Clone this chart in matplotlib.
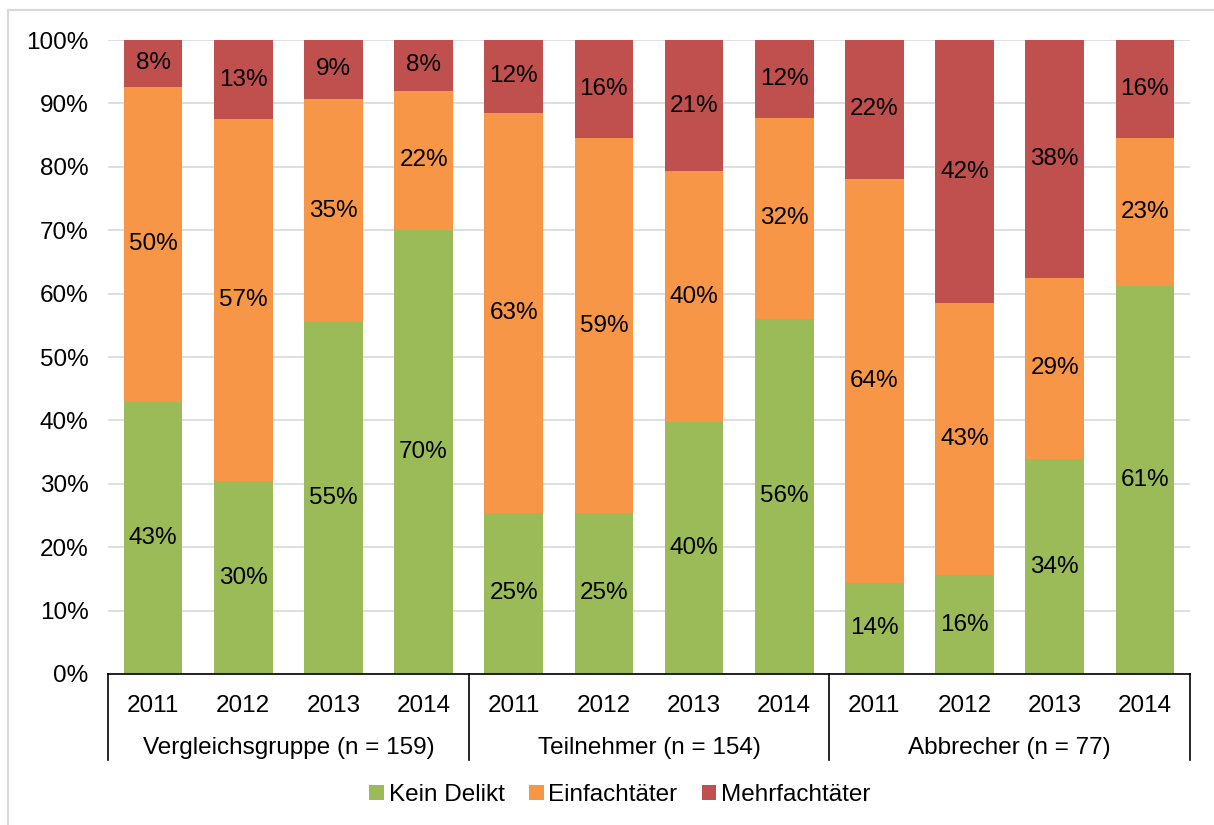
"""Stacked percentage bars: offence categories per group and year."""

import matplotlib
matplotlib.use("Agg")
import matplotlib.pyplot as plt
from matplotlib.patches import Patch
from matplotlib.lines import Line2D
import matplotlib.transforms as mtransforms

plt.rcParams['font.family'] = ['Liberation Sans', 'DejaVu Sans']

# Data
years = ['2011', '2012', '2013', '2014']
groups = ['Vergleichsgruppe (n = 159)', 'Teilnehmer (n = 154)', 'Abbrecher (n = 77)']

kein_delikt = [42.9, 30.4, 55.5, 70.0,
               25.4, 25.4, 39.7, 56.0,
               14.4, 15.6, 33.9, 61.2]
einfach = [49.7, 57.1, 35.2, 22.0,
           63.1, 59.1, 39.6, 31.7,
           63.7, 42.9, 28.6, 23.3]
mehrfach = [7.4, 12.5, 9.3, 8.0,
            11.5, 15.5, 20.7, 12.3,
            21.9, 41.5, 37.5, 15.5]

labels_kein = [43, 30, 55, 70, 25, 25, 40, 56, 14, 16, 34, 61]
labels_einfach = [50, 57, 35, 22, 63, 59, 40, 32, 64, 43, 29, 23]
labels_mehrfach = [8, 13, 9, 8, 12, 16, 21, 12, 22, 42, 38, 16]

series_names = ['Kein Delikt', 'Einfachtäter', 'Mehrfachtäter']
colors = ['#9BBB59', '#F79646', '#C0504D']

FS = 17.5

fig = plt.figure(figsize=(12.14, 8.25), dpi=100)
ax = fig.add_axes([108 / 1214, 1 - 674 / 825, (1190 - 108) / 1214, (674 - 40) / 825])

x = list(range(len(kein_delikt)))
width = 0.65
bottom = [0.0] * len(x)
for vals, labs, col in zip([kein_delikt, einfach, mehrfach],
                           [labels_kein, labels_einfach, labels_mehrfach], colors):
    ax.bar(x, vals, width, bottom=bottom, color=col, zorder=2)
    for xi, v, b, lab in zip(x, vals, bottom, labs):
        ax.text(xi, b + v / 2, f'{lab}%', ha='center', va='center',
                fontsize=FS, color='black', zorder=3)
    bottom = [b + v for b, v in zip(bottom, vals)]

ax.set_xlim(-0.5, len(x) - 0.5)
ax.set_ylim(0, 100)
ax.set_yticks(range(0, 101, 10))
ax.set_yticklabels([f'{v}%' for v in range(0, 101, 10)], fontsize=FS)
ax.yaxis.grid(True, color='#D9D9D9', linewidth=1.2, zorder=0)
ax.set_axisbelow(True)

ax.set_xticks(x)
ax.set_xticklabels(years * len(groups), fontsize=FS)
ax.tick_params(axis='x', length=0, pad=15)
ax.tick_params(axis='y', length=0, pad=14)

for side in ['left', 'right', 'top']:
    ax.spines[side].set_visible(False)
ax.spines['bottom'].set_color('black')
ax.spines['bottom'].set_linewidth(1.2)

# Group separators and group labels below the axis
trans = mtransforms.blended_transform_factory(ax.transData, ax.transAxes)
for bnd in [-0.5, 3.5, 7.5, 11.5]:
    ax.add_line(Line2D([bnd, bnd], [0, -0.136], transform=trans, color='black',
                       linewidth=1.2, clip_on=False))
for gi, name in enumerate(groups):
    ax.text(gi * 4 + 1.5, -0.116, name, transform=trans, ha='center',
            va='center', fontsize=FS)

handles = [Patch(facecolor=c, label=n) for c, n in zip(colors, series_names)]
fig.legend(handles=handles, loc='center', bbox_to_anchor=(620 / 1214, 1 - 795 / 825),
           ncol=3, frameon=False, fontsize=FS, handlelength=0.6, handleheight=0.6,
           handletextpad=0.2, columnspacing=1.0)

# light frame around the chart
fig.add_artist(Line2D([8 / 1214, 8 / 1214], [0, 1 - 10 / 825], transform=fig.transFigure,
                      color='#D9D9D9', linewidth=1.5))
fig.add_artist(Line2D([8 / 1214, 1], [1 - 10 / 825, 1 - 10 / 825], transform=fig.transFigure,
                      color='#D9D9D9', linewidth=1.5))

fig.savefig('out.png', dpi=100)
